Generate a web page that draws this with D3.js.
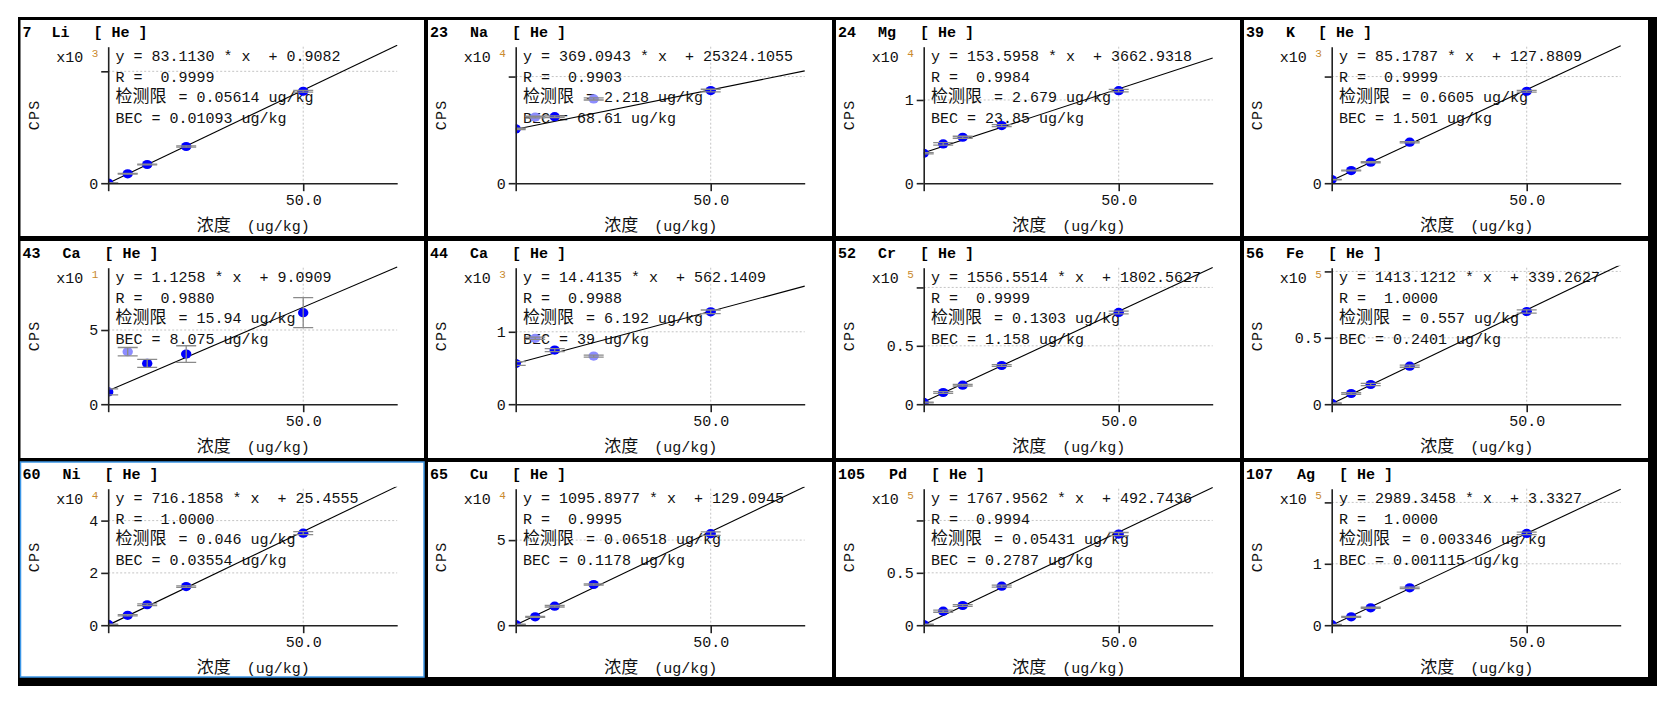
<!DOCTYPE html>
<html><head><meta charset="utf-8">
<script src="https://cdn.jsdelivr.net/npm/d3@7"></script>
<style>body{margin:0;background:#fff;} svg{display:block} text{white-space:pre}</style>
</head><body><svg id="c" width="1674" height="707"></svg>
<script>
// ---------- data ----------
const masses   = ["7","23","24","39","43","44","52","56","60","65","105","107"];
const elements = ["Li","Na","Mg","K","Ca","Ca","Cr","Fe","Ni","Cu","Pd","Ag"];
const concentrations = [0, 5, 10, 20, 50];
const cpsValues = [
  [5, 420, 835, 1640, 4110],
  [25470, 31000, 31200, 39500, 43440],
  [3600, 4720, 5520, 6920, 11120],
  [170, 594, 984, 1922, 4312],
  [8.3, 35.4, 27.5, 33.8, 61.7],
  [562, 910, 747, 664, 1276],
  [1500, 10000, 16290, 33140, 78570],
  [600, 8040, 14820, 28640, 69800],
  [300, 3790, 7820, 14760, 35200],
  [400, 4900, 11180, 23920, 53800],
  [600, 13380, 18790, 37260, 87000],
  [800, 13590, 28260, 60870, 149460]
];
const cpsErrors = [
  [5, 15, 20, 30, 40],
  [300, 400, 400, 500, 600],
  [80, 150, 120, 120, 150],
  [10, 20, 25, 30, 40],
  [2, 2.8, 2.7, 5.6, 10.1],
  [25, 15, 20, 15, 25],
  [300, 700, 700, 800, 1200],
  [300, 600, 800, 800, 1200],
  [100, 250, 300, 300, 600],
  [150, 300, 500, 400, 1000],
  [300, 1000, 800, 1000, 1500],
  [300, 800, 1000, 1200, 2000]
];
const excludedPoints = [[],[1,3],[],[],[1],[1,3],[],[],[],[],[],[]];
const slopes     = ["83.1130","369.0943","153.5958","85.1787","1.1258","14.4135","1556.5514","1413.1212","716.1858","1095.8977","1767.9562","2989.3458"];
const intercepts = ["0.9082","25324.1055","3662.9318","127.8809","9.0909","562.1409","1802.5627","339.2627","25.4555","129.0945","492.7436","3.3327"];
const rValues    = ["0.9999","0.9903","0.9984","0.9999","0.9880","0.9988","0.9999","1.0000","1.0000","0.9995","0.9994","1.0000"];
const detectionLimits = ["0.05614","2.218","2.679","0.6605","15.94","6.192","0.1303","0.557","0.046","0.06518","0.05431","0.003346"];
const becValues  = ["0.01093","68.61","23.85","1.501","8.075","39","1.158","0.2401","0.03554","0.1178","0.2787","0.001115"];
const yExponents = ["3","4","4","3","1","3","5","5","4","4","5","5"];
const yTopValues = [6100, 64000, 16400, 6400, 92, 1885, 116900, 102800, 52200, 80200, 130300, 222300];
const yTickValues = [
  [0,5000],[0,50000],[0,10000],[0,5000],[0,50],[0,1000],
  [0,50000,100000],[0,50000,100000],[0,20000,40000],[0,50000],[0,50000,100000],[0,100000,200000]
];
const yTickLabels = [
  ["0",""],["0",""],["0","1"],["0",""],["0","5"],["0","1"],
  ["0","0.5",""],["0","0.5",""],["0","2","4"],["0","5"],["0","0.5",""],["0","1",""]
];
const xTickValues = [0, 50];
const xTickLabels = ["", "50.0"];
const xMax = 74.1;
const selectedPanel = 8;

// ---------- drawing ----------
const MONO = "'Liberation Mono','DejaVu Sans Mono',monospace";
const CJK = "'Noto Sans CJK SC','Noto Sans CJK JP',sans-serif";
const svg = d3.select("#c");
svg.append("rect").attr("x",18).attr("y",17).attr("width",1639).attr("height",669).attr("fill","#000");

const cols = [[20.5,424],[428,832],[836,1240],[1244,1648]];
const rows = [[20,236],[241,458],[462,677]];

masses.forEach((m, i) => {
  const c = cols[i % 4], r = rows[Math.floor(i / 4)];
  const ix = c[0], iy = r[0], w = c[1]-c[0], h = r[1]-r[0];
  const g = svg.append("g");
  g.append("rect").attr("x",ix).attr("y",iy).attr("width",w).attr("height",h)
    .attr("fill","#fff")
    .attr("stroke", i === selectedPanel ? "#3c96e6" : "none").attr("stroke-width",1.5);

  const axisX = ix + 87.7, xRight = ix + 376.7;
  const axisY = iy + 163.2, axisTop = iy + 26.7;
  const x = d3.scaleLinear().domain([0, xMax]).range([axisX, xRight]);
  const y = d3.scaleLinear().domain([0, yTopValues[i]]).range([axisY, axisTop]);

  // title
  const t = g.append("text").attr("y", iy + 16.5).attr("font-family", MONO)
    .attr("font-weight","bold").attr("font-size",15).attr("fill","#000");
  const elX = ix + 20 + 11 * m.length;
  t.append("tspan").attr("x", ix + 2).text(m);
  t.append("tspan").attr("x", elX).text(elements[i]);
  t.append("tspan").attr("x", elX + 10 * elements[i].length + 22).text("[ He ]");

  // grid
  const grid = g.append("g").attr("stroke","#c4c4c4").attr("stroke-width",1).attr("stroke-dasharray","2,2");
  yTickValues[i].filter(v => v > 0).forEach(v => {
    grid.append("line").attr("x1",axisX).attr("x2",xRight).attr("y1",y(v)).attr("y2",y(v));
  });
  xTickValues.filter(v => v > 0).forEach(v => {
    grid.append("line").attr("x1",x(v)).attr("x2",x(v)).attr("y1",axisTop).attr("y2",axisY);
  });

  // info text
  const tx = axisX + 7.3, ty = axisTop + 14;
  const info = g.append("g").attr("font-family", MONO).attr("font-size",15).attr("fill","#111");
  info.append("text").attr("x",tx).attr("y",ty).text(`y = ${slopes[i]} * x  + ${intercepts[i]}`);
  info.append("text").attr("x",tx).attr("y",ty+20.8).text(`R =  ${rValues[i]}`);
  const dl = info.append("text").attr("y",ty+41.6);
  dl.append("tspan").attr("x",tx).attr("font-family",CJK).attr("font-size",17).text("检测限");
  dl.append("tspan").attr("x",tx+54).text(` = ${detectionLimits[i]} ug/kg`);
  info.append("text").attr("x",tx).attr("y",ty+62.4).text(`BEC = ${becValues[i]} ug/kg`);

  // clip
  const clipId = "clip" + i;
  svg.append("clipPath").attr("id",clipId).append("rect")
    .attr("x",axisX).attr("y",axisTop-2).attr("width",xRight-axisX+1).attr("height",axisY-axisTop+2);
  const plot = g.append("g").attr("clip-path",`url(#${clipId})`);

  // fit line
  const sl = parseFloat(slopes[i]), ic = parseFloat(intercepts[i]);
  plot.append("line").attr("x1",x(0)).attr("y1",y(ic)).attr("x2",x(xMax)).attr("y2",y(sl*xMax+ic))
    .attr("stroke","#000").attr("stroke-width",1.1);

  // points
  concentrations.forEach((cv, j) => {
    const ex = excludedPoints[i].includes(j);
    plot.append("ellipse").attr("cx",x(cv)).attr("cy",y(cpsValues[i][j])).attr("rx",5.2).attr("ry",4.6)
      .attr("fill", ex ? "#8c8cff" : "#0000ff");
  });
  // error bars
  const eb = plot.append("g").attr("stroke","#8a8a8a").attr("stroke-width",1.3);
  concentrations.forEach((cv, j) => {
    const v = cpsValues[i][j], e = cpsErrors[i][j], px = x(cv);
    eb.append("line").attr("x1",px).attr("x2",px).attr("y1",y(v-e)).attr("y2",y(v+e));
    eb.append("line").attr("x1",px-10).attr("x2",px+10).attr("y1",y(v-e)).attr("y2",y(v-e));
    eb.append("line").attr("x1",px-10).attr("x2",px+10).attr("y1",y(v+e)).attr("y2",y(v+e));
  });

  // axes
  const ya = g.append("g").attr("transform",`translate(${axisX},0)`)
    .call(d3.axisLeft(y).tickValues(yTickValues[i]).tickFormat((d,k)=>yTickLabels[i][k]).tickSize(7).tickSizeOuter(0));
  const xa = g.append("g").attr("transform",`translate(0,${axisY})`)
    .call(d3.axisBottom(x).tickValues(xTickValues).tickFormat((d,k)=>xTickLabels[k]).tickSize(8).tickSizeOuter(0));
  [ya, xa].forEach(a => {
    a.selectAll("path,line").attr("stroke","#222").attr("stroke-width",1.6);
    a.selectAll("text").attr("font-family",MONO).attr("font-size",15).attr("fill","#111");
  });

  // exponent label
  g.append("text").attr("x",axisX-25).attr("y",axisTop+15.5).attr("text-anchor","end")
    .attr("font-family",MONO).attr("font-size",15).attr("fill","#111").text("x10");
  g.append("text").attr("x",axisX-16.5).attr("y",axisTop+10.5)
    .attr("font-family",MONO).attr("font-size",11).attr("fill","#c98a2e").text(yExponents[i]);

  // axis titles
  g.append("text").attr("transform",`translate(${ix+18},${(axisY+axisTop)/2}) rotate(-90)`)
    .attr("text-anchor","middle").attr("font-family",MONO).attr("font-size",15).attr("letter-spacing",1.2)
    .attr("fill","#111").text("CPS");
  const xl = g.append("text").attr("y",axisY+47.3).attr("fill","#111");
  const xlStart = (axisX + xRight)/2 - 56;
  xl.append("tspan").attr("x",xlStart).attr("font-family",CJK).attr("font-size",17).text("浓度");
  xl.append("tspan").attr("x",xlStart+50).attr("font-family",MONO).attr("font-size",15).text("(ug/kg)");
});
</script></body></html>
